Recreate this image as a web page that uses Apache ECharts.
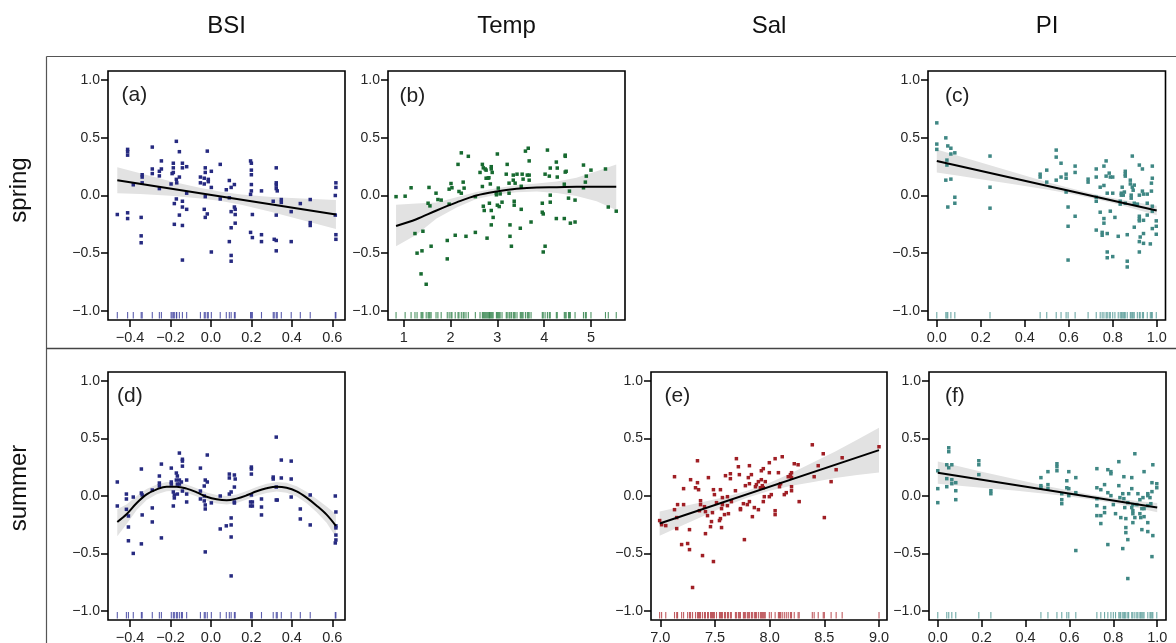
<!DOCTYPE html>
<html><head><meta charset="utf-8">
<script src="https://cdn.jsdelivr.net/npm/echarts@6/dist/echarts.min.js"></script>
<style>html,body{margin:0;padding:0;background:#fff}#c{width:1176px;height:643px}</style>
</head><body><div id="c"></div>
<script>
// ---------- labels / ticks ----------
const colHeaders = ['BSI', 'Temp', 'Sal', 'PI'];
const rowHeaders = ['spring', 'summer'];
const panelLabels = ['(a)', '(b)', '(c)', '(d)', '(e)', '(f)'];
const yTicks = [-1, -0.5, 0, 0.5, 1];
const bsiTicks = [-0.4, -0.2, 0, 0.2, 0.4, 0.6];
const tempTicks = [1, 2, 3, 4, 5];
const salTicks = [7, 7.5, 8, 8.5, 9];
const piTicks = [0, 0.2, 0.4, 0.6, 0.8, 1];

// ---------- (a) spring BSI ----------
const aPts = [[-0.463,-0.165],[-0.412,0.40],[-0.412,0.38],[-0.412,0.35],[-0.412,-0.15],[-0.412,-0.20],[-0.384,0.093],[-0.34,0.18],[-0.34,0.16],[-0.34,0.11],[-0.345,-0.19],[-0.345,-0.35],[-0.345,-0.41],[-0.29,0.42],[-0.29,0.23],[-0.29,0.19],[-0.255,0.06],[-0.255,0.21],[-0.255,0.17],[-0.245,0.30],[-0.245,0.23],[-0.197,0.10],[-0.192,0.19],[-0.186,0.28],[-0.186,0.24],[-0.186,0.20],[-0.181,-0.07],[-0.181,-0.25],[-0.171,0.47],[-0.171,0.14],[-0.169,0.11],[-0.171,-0.03],[-0.156,0.38],[-0.156,0.16],[-0.156,-0.17],[-0.141,0.28],[-0.141,0.24],[-0.141,-0.05],[-0.141,-0.10],[-0.141,-0.26],[-0.141,-0.56],[-0.12,0.25],[-0.12,0.02],[-0.12,-0.12],[-0.052,0.16],[-0.052,0.11],[-0.033,0.15],[-0.033,0.10],[-0.028,0.24],[-0.028,0.20],[-0.028,-0.01],[-0.033,-0.12],[-0.028,-0.19],[-0.018,0.385],[-0.013,0.14],[-0.013,0.12],[-0.018,-0.16],[0.002,0.21],[0.002,0.07],[0.002,-0.49],[0.046,0.27],[0.046,-0.03],[0.076,0.05],[0.091,0.13],[0.091,-0.02],[0.091,-0.40],[0.10,0.07],[0.10,-0.14],[0.10,-0.28],[0.10,-0.52],[0.10,-0.57],[0.116,0.095],[0.116,-0.10],[0.12,-0.12],[0.12,-0.165],[0.12,-0.24],[0.196,0.30],[0.2,0.28],[0.2,0.22],[0.2,0.18],[0.2,0.095],[0.2,0.04],[0.196,0.01],[0.205,-0.165],[0.196,-0.32],[0.205,-0.365],[0.25,0.04],[0.25,-0.34],[0.25,-0.40],[0.308,-0.05],[0.313,-0.38],[0.323,0.24],[0.323,0.11],[0.323,0.09],[0.323,0.06],[0.328,0.04],[0.323,-0.17],[0.323,-0.39],[0.323,-0.48],[0.348,-0.035],[0.348,-0.06],[0.397,-0.14],[0.397,-0.40],[0.442,-0.07],[0.491,-0.035],[0.491,-0.235],[0.491,-0.26],[0.618,0.11],[0.618,0.07],[0.615,0.0],[0.615,-0.17],[0.618,-0.34],[0.618,-0.38]];
const aFitX = [-0.463, 0.618];
const aFitY = [0.133, -0.165];
const aBandX = [-0.463, -0.35, -0.2, -0.05, 0.05, 0.15, 0.3, 0.45, 0.618];
const aBandHi = [0.246, 0.192, 0.124, 0.064, 0.032, 0.009, -0.013, -0.026, -0.040];
const aBandLo = [0.020, 0.012, -0.002, -0.026, -0.048, -0.081, -0.143, -0.212, -0.290];

// ---------- (b) spring Temp ----------
const bPts = [[0.836,-0.01],[1.03,-0.006],[1.157,0.067],[1.24,-0.33],[1.285,-0.50],[1.39,-0.48],[1.41,-0.31],[1.37,-0.68],[1.48,-0.77],[1.52,-0.067],[1.54,0.07],[1.56,-0.09],[1.585,-0.44],[1.69,0.02],[1.73,-0.035],[1.8,-0.04],[1.93,-0.39],[1.93,-0.55],[1.97,0.055],[1.97,-0.075],[2.01,0.104],[2.03,0.067],[2.1,-0.345],[2.16,0.27],[2.18,0.035],[2.23,0.37],[2.23,0.02],[2.27,0.116],[2.29,0.064],[2.33,-0.354],[2.38,0.34],[2.53,-0.32],[2.53,-0.01],[2.63,0.20],[2.68,0.078],[2.68,0.27],[2.7,0.24],[2.7,-0.093],[2.72,-0.13],[2.74,0.23],[2.76,0.22],[2.76,0.15],[2.78,-0.37],[2.8,0.15],[2.82,0.154],[2.83,-0.067],[2.85,0.10],[2.87,0.25],[2.87,0.23],[2.87,-0.13],[2.87,-0.255],[2.89,0.20],[2.91,-0.19],[2.98,0.02],[2.98,0.006],[3.0,0.36],[3.0,-0.084],[3.02,0.064],[3.04,-0.096],[3.06,0.014],[3.1,-0.058],[3.19,0.185],[3.21,0.27],[3.25,0.107],[3.25,0.02],[3.27,-0.255],[3.27,-0.354],[3.3,-0.44],[3.34,0.177],[3.34,0.133],[3.36,-0.084],[3.36,-0.05],[3.38,0.107],[3.42,0.185],[3.49,-0.284],[3.51,-0.12],[3.51,0.08],[3.53,0.185],[3.55,0.142],[3.6,0.385],[3.64,0.177],[3.66,0.41],[3.68,0.30],[3.68,0.177],[3.68,0.133],[3.72,-0.23],[3.96,-0.067],[3.96,-0.145],[3.98,-0.16],[3.98,-0.49],[4.02,-0.44],[4.02,0.185],[4.07,0.394],[4.11,0.168],[4.13,0.238],[4.13,0.003],[4.13,-0.058],[4.26,0.29],[4.26,-0.2],[4.28,0.238],[4.28,0.16],[4.43,0.098],[4.43,-0.2],[4.45,0.35],[4.45,0.34],[4.45,0.203],[4.47,0.21],[4.52,-0.023],[4.54,0.038],[4.56,-0.24],[4.66,-0.23],[4.66,-0.04],[4.84,0.264],[4.84,0.067],[4.88,0.116],[4.9,0.168],[5.0,0.22],[5.31,0.23],[5.37,-0.1],[5.54,-0.136]];
const bFitX = [0.836, 1.27, 1.7, 2.13, 2.55, 2.98, 3.41, 3.84, 4.27, 4.69, 5.12, 5.54];
const bFitY = [-0.264, -0.206, -0.13, -0.06, 0.0, 0.035, 0.058, 0.07, 0.072, 0.075, 0.075, 0.075];
const bBandX = [0.836, 1.27, 1.7, 2.13, 2.55, 2.98, 3.41, 3.84, 4.27, 4.69, 5.12, 5.54];
const bBandHi = [-0.08, -0.07, -0.06, -0.015, 0.03, 0.063, 0.088, 0.105, 0.122, 0.155, 0.21, 0.27];
const bBandLo = [-0.44, -0.34, -0.20, -0.105, -0.03, 0.007, 0.028, 0.035, 0.022, -0.005, -0.05, -0.125];

// ---------- (c) spring PI ----------
const cPts = [[0,0.63],[0,0.446],[0,0.40],[0.041,0.50],[0.05,0.43],[0.064,0.41],[0.064,0.36],[0.082,0.37],[0.046,0.307],[0.046,0.264],[0.041,0.133],[0.064,0.142],[0.05,-0.10],[0.082,-0.015],[0.082,-0.067],[0.242,0.342],[0.242,0.072],[0.242,-0.11],[0.47,0.185],[0.47,0.16],[0.50,0.22],[0.50,0.116],[0.543,0.394],[0.543,0.333],[0.543,0.133],[0.565,0.28],[0.565,0.16],[0.588,0.185],[0.588,0.15],[0.588,0.03],[0.597,-0.10],[0.597,-0.267],[0.597,-0.56],[0.629,0.255],[0.629,0.20],[0.629,-0.18],[0.688,0.142],[0.688,0.116],[0.725,0.23],[0.725,0.16],[0.725,-0.015],[0.725,-0.05],[0.725,-0.30],[0.743,0.072],[0.743,-0.145],[0.752,-0.32],[0.752,-0.345],[0.76,0.255],[0.76,0.087],[0.76,-0.2],[0.76,-0.24],[0.77,0.30],[0.77,0.168],[0.775,0.02],[0.775,-0.33],[0.775,-0.49],[0.775,-0.54],[0.784,0.194],[0.789,0.16],[0.8,0.16],[0.789,-0.136],[0.8,0.02],[0.8,-0.53],[0.81,-0.19],[0.825,-0.354],[0.834,-0.05],[0.834,-0.075],[0.839,0.02],[0.839,0.003],[0.843,0.072],[0.848,0.003],[0.853,0.03],[0.857,0.21],[0.857,0.185],[0.857,0.168],[0.857,-0.067],[0.866,-0.34],[0.866,-0.57],[0.866,-0.62],[0.88,0.133],[0.88,0.10],[0.884,0.003],[0.884,-0.023],[0.889,0.342],[0.889,0.072],[0.893,0.046],[0.898,0.09],[0.898,-0.067],[0.898,-0.275],[0.912,-0.075],[0.921,0.264],[0.921,0.003],[0.921,-0.18],[0.921,-0.205],[0.921,-0.22],[0.921,-0.4],[0.921,-0.49],[0.925,-0.36],[0.935,0.23],[0.935,0.038],[0.94,0.012],[0.94,-0.215],[0.94,-0.33],[0.94,-0.415],[0.957,0.012],[0.957,-0.067],[0.957,-0.17],[0.971,-0.42],[0.976,0.107],[0.976,0.038],[0.98,0.255],[0.98,0.15],[0.98,-0.093],[0.98,-0.136],[0.98,-0.287],[0.998,-0.22],[0.998,-0.267],[0.998,-0.336]];
const cFitX = [0, 1.0];
const cFitY = [0.30, -0.13];
const cBandX = [0, 0.1, 0.2, 0.35, 0.5, 0.6, 0.7, 0.8, 0.9, 1.0];
const cBandHi = [0.40, 0.343, 0.286, 0.202, 0.118, 0.067, 0.020, -0.022, -0.057, -0.088];
const cBandLo = [0.20, 0.171, 0.142, 0.098, 0.052, 0.017, -0.022, -0.066, -0.117, -0.172];

// ---------- (d) summer BSI ----------
const dPts = [[-0.463,0.122],[-0.463,-0.087],[-0.418,0.017],[-0.418,-0.026],[-0.418,-0.116],[-0.408,-0.174],[-0.408,-0.27],[-0.408,-0.39],[-0.384,-0.009],[-0.384,-0.50],[-0.344,0.235],[-0.344,0.026],[-0.34,0.009],[-0.34,-0.165],[-0.344,-0.417],[-0.29,0.052],[-0.29,-0.104],[-0.29,-0.226],[-0.255,0.174],[-0.255,0.113],[-0.255,0.087],[-0.245,0.278],[-0.245,-0.365],[-0.196,0.243],[-0.196,0.122],[-0.196,0.104],[-0.186,0.035],[-0.186,-0.087],[-0.181,0.009],[-0.181,-0.017],[-0.171,0.20],[-0.166,0.174],[-0.171,0.139],[-0.166,0.104],[-0.166,0.017],[-0.156,0.374],[-0.156,0.139],[-0.156,0.104],[-0.146,0.122],[-0.141,0.32],[-0.141,0.304],[-0.141,0.26],[-0.141,0.043],[-0.12,0.139],[-0.12,0.017],[-0.12,-0.052],[-0.052,0.243],[-0.052,0.043],[-0.052,-0.026],[-0.033,0.087],[-0.033,0.0],[-0.033,-0.043],[-0.028,-0.078],[-0.028,-0.113],[-0.028,0.139],[-0.028,-0.487],[-0.018,0.357],[-0.018,0.122],[0.002,-0.06],[0.046,0.0],[0.046,-0.287],[0.076,-0.26],[0.091,0.191],[0.091,0.157],[0.091,0.017],[0.10,0.035],[0.10,-0.191],[0.10,-0.252],[0.10,-0.357],[0.10,-0.696],[0.116,0.183],[0.12,0.148],[0.116,0.078],[0.116,-0.052],[0.116,-0.061],[0.2,0.252],[0.2,0.235],[0.2,0.191],[0.2,0.009],[0.196,-0.052],[0.205,-0.052],[0.196,-0.087],[0.205,-0.087],[0.25,-0.026],[0.25,-0.096],[0.25,-0.165],[0.308,0.165],[0.308,0.148],[0.323,0.513],[0.323,0.078],[0.323,-0.035],[0.328,-0.035],[0.348,0.313],[0.348,0.157],[0.397,0.304],[0.397,0.148],[0.397,-0.009],[0.442,-0.113],[0.442,-0.2],[0.491,0.009],[0.491,-0.252],[0.615,0.0],[0.618,-0.139],[0.618,-0.26],[0.618,-0.278],[0.618,-0.34],[0.618,-0.383],[0.615,-0.409]];
const dFitX = [-0.463,-0.416,-0.367,-0.318,-0.268,-0.219,-0.169,-0.12,-0.07,-0.021,0.028,0.078,0.127,0.177,0.226,0.275,0.325,0.374,0.424,0.473,0.523,0.572,0.618];
const dFitY = [-0.226,-0.157,-0.061,0.014,0.058,0.081,0.081,0.064,0.032,-0.006,-0.029,-0.038,-0.023,0.006,0.041,0.067,0.081,0.072,0.041,-0.014,-0.084,-0.162,-0.26];
const dBandX = dFitX.slice();
const dBandHi = [-0.115,-0.072,-0.001,0.062,0.100,0.121,0.117,0.100,0.068,0.030,0.008,-0.001,0.014,0.043,0.079,0.107,0.123,0.115,0.086,0.036,-0.026,-0.092,-0.16];
const dBandLo = [-0.35,-0.242,-0.121,-0.034,0.016,0.041,0.045,0.028,-0.004,-0.042,-0.066,-0.075,-0.060,-0.031,0.003,0.027,0.039,0.029,-0.004,-0.064,-0.142,-0.232,-0.36];

// ---------- (e) summer Sal ----------
const ePts = [[6.994,-0.214],[7.012,-0.25],[7.05,-0.258],[7.13,0.168],[7.13,-0.119],[7.15,-0.188],[7.15,-0.284],[7.158,-0.075],[7.195,-0.423],[7.213,0.064],[7.213,-0.075],[7.25,-0.414],[7.267,-0.293],[7.267,-0.467],[7.277,0.142],[7.295,-0.797],[7.322,0.072],[7.34,0.307],[7.34,0.116],[7.35,0.055],[7.358,-0.128],[7.368,-0.041],[7.368,-0.075],[7.386,-0.519],[7.404,-0.093],[7.413,-0.328],[7.413,-0.136],[7.432,-0.171],[7.44,0.16],[7.459,-0.267],[7.468,-0.223],[7.477,-0.145],[7.486,0.055],[7.486,-0.571],[7.495,0.012],[7.514,-0.058],[7.541,-0.214],[7.55,0.055],[7.55,-0.197],[7.56,-0.11],[7.56,-0.275],[7.568,-0.014],[7.568,-0.075],[7.587,-0.162],[7.596,0.177],[7.614,-0.006],[7.614,-0.084],[7.623,-0.154],[7.641,0.194],[7.641,0.151],[7.65,-0.049],[7.687,0.046],[7.696,0.325],[7.714,0.255],[7.723,0.186],[7.733,-0.11],[7.733,-0.119],[7.76,-0.067],[7.769,-0.38],[7.778,0.09],[7.796,-0.075],[7.805,0.16],[7.815,0.264],[7.815,0.107],[7.815,-0.049],[7.833,0.186],[7.842,-0.18],[7.86,-0.101],[7.87,0.081],[7.879,0.099],[7.897,0.125],[7.897,-0.119],[7.915,0.072],[7.924,0.22],[7.924,0.142],[7.933,0.09],[7.942,0.238],[7.942,0.072],[7.942,-0.049],[7.951,-0.006],[7.96,0.125],[7.997,0.29],[7.997,0.203],[7.997,-0.006],[8.015,0.012],[8.05,0.325],[8.05,-0.128],[8.05,-0.162],[8.08,0.203],[8.09,0.081],[8.1,0.107],[8.115,0.342],[8.134,0.012],[8.152,0.029],[8.17,0.168],[8.19,0.186],[8.2,0.081],[8.2,0.046],[8.2,0.203],[8.2,0.16],[8.225,0.281],[8.26,0.272],[8.27,-0.049],[8.39,0.446],[8.407,0.168],[8.444,0.264],[8.49,0.368],[8.5,-0.188],[8.562,0.125],[8.608,0.229],[8.663,0.333],[9.0,0.429]];
const eFitX = [6.994, 9.0];
const eFitY = [-0.24, 0.40];
const eBandX = [6.994, 7.2, 7.4, 7.6, 7.8, 8.0, 8.2, 8.4, 8.6, 8.8, 9.0];
const eBandHi = [-0.134, -0.091, -0.051, -0.007, 0.047, 0.116, 0.200, 0.293, 0.387, 0.489, 0.595];
const eBandLo = [-0.346, -0.257, -0.171, -0.087, -0.013, 0.046, 0.090, 0.123, 0.157, 0.183, 0.205];

// ---------- (f) summer PI ----------
const fPts = [[0,0.22],[0,0.064],[0,-0.058],[0.05,0.42],[0.05,0.386],[0.05,0.246],[0.041,0.272],[0.064,0.272],[0.041,0.151],[0.041,0.081],[0.064,0.142],[0.064,0.107],[0.082,0.116],[0.082,0.046],[0.082,-0.032],[0.187,0.307],[0.187,0.272],[0.187,0.186],[0.242,0.046],[0.242,0.02],[0.47,0.16],[0.47,0.09],[0.47,0.072],[0.502,0.212],[0.502,0.099],[0.502,0.064],[0.543,0.281],[0.543,0.255],[0.543,0.22],[0.565,0.02],[0.565,-0.032],[0.565,-0.067],[0.588,0.133],[0.588,0.072],[0.597,0.064],[0.597,0.003],[0.597,0.212],[0.629,0.16],[0.629,0.029],[0.629,-0.475],[0.725,0.238],[0.725,0.072],[0.725,-0.023],[0.725,-0.084],[0.725,-0.171],[0.743,0.055],[0.743,-0.171],[0.743,-0.24],[0.76,0.099],[0.76,-0.101],[0.76,-0.145],[0.775,0.229],[0.775,0.029],[0.775,-0.423],[0.789,0.212],[0.789,0.194],[0.789,0.003],[0.8,-0.075],[0.81,-0.154],[0.825,0.299],[0.825,0.09],[0.83,-0.014],[0.834,-0.188],[0.843,0.02],[0.843,-0.458],[0.848,0.168],[0.848,-0.023],[0.852,-0.101],[0.857,-0.197],[0.857,-0.275],[0.857,-0.319],[0.866,-0.38],[0.866,-0.719],[0.866,-0.058],[0.87,0.02],[0.884,0.16],[0.884,0.064],[0.884,-0.101],[0.889,-0.075],[0.889,-0.128],[0.889,-0.154],[0.889,-0.232],[0.898,0.368],[0.898,-0.188],[0.907,-0.075],[0.912,0.02],[0.921,-0.032],[0.921,-0.154],[0.925,-0.188],[0.93,-0.293],[0.93,-0.11],[0.935,-0.014],[0.94,0.212],[0.94,-0.11],[0.94,-0.18],[0.957,0.02],[0.957,0.003],[0.957,-0.084],[0.957,-0.232],[0.957,-0.31],[0.967,-0.014],[0.971,-0.067],[0.976,0.116],[0.976,0.038],[0.976,-0.528],[0.98,0.272],[0.98,-0.345],[0.998,0.107],[0.998,0.072]];
const fFitX = [0, 1.0];
const fFitY = [0.203, -0.101];
const fBandX = [0, 0.1, 0.2, 0.35, 0.5, 0.6, 0.7, 0.8, 0.9, 1.0];
const fBandHi = [0.300, 0.256, 0.212, 0.147, 0.084, 0.047, 0.011, -0.018, -0.042, -0.061];
const fBandLo = [0.106, 0.090, 0.072, 0.047, 0.018, -0.005, -0.031, -0.062, -0.100, -0.141];

// ---------- layout (positions and styles only) ----------
const FONT = '"Liberation Sans", Arial, Helvetica, sans-serif';
const Y_MIN = -1.08, Y_MAX = 1.08;
const panels = [
  {box:[108,71,237,249], xr:[-0.509,0.663], ticks:bsiTicks, dec:1, pts:aPts, fx:aFitX, fy:aFitY, bx:aBandX, bh:aBandHi, bl:aBandLo, smooth:false, color:'#262A80', rug:'#34379a', lab:[121.5,95]},
  {box:[388,71,237,249], xr:[0.664,5.727], ticks:tempTicks, dec:0, pts:bPts, fx:bFitX, fy:bFitY, bx:bBandX, bh:bBandHi, bl:bBandLo, smooth:0.35, color:'#176A30', rug:'#237a3e', lab:[399.5,96]},
  {box:[928,71,237.5,249], xr:[-0.04,1.04], ticks:piTicks, dec:1, pts:cPts, fx:cFitX, fy:cFitY, bx:cBandX, bh:cBandHi, bl:cBandLo, smooth:false, color:'#3F8784', rug:'#4a9390', lab:[945,96]},
  {box:[108,372,237,248], xr:[-0.509,0.663], ticks:bsiTicks, dec:1, pts:dPts, fx:dFitX, fy:dFitY, bx:dBandX, bh:dBandHi, bl:dBandLo, smooth:0.35, color:'#262A80', rug:'#34379a', lab:[117,396]},
  {box:[651,372,236,248], xr:[6.915,9.073], ticks:salTicks, dec:1, pts:ePts, fx:eFitX, fy:eFitY, bx:eBandX, bh:eBandHi, bl:eBandLo, smooth:false, color:'#A01F25', rug:'#b0333a', lab:[664.5,396]},
  {box:[929,372,237,248], xr:[-0.04,1.04], ticks:piTicks, dec:1, pts:fPts, fx:fFitX, fy:fFitY, bx:fBandX, bh:fBandHi, bl:fBandLo, smooth:false, color:'#3F8784', rug:'#4a9390', lab:[945,396]}
];
const colCenters = [226.5, 506.5, 769, 1047];
const rowCenters = [190, 488];

function fmt(dec) {
  return v => (dec === 0 ? String(Math.round(v)) : v.toFixed(1)).replace('-', '\u2212');
}

const grids = [], xAxes = [], yAxes = [], series = [];
panels.forEach((p, i) => {
  grids.push({left:p.box[0], top:p.box[1], width:p.box[2], height:p.box[3], show:true,
    borderColor:'#000', borderWidth:1.6, backgroundColor:'transparent', containLabel:false, outerBoundsMode:'none'});
  xAxes.push({gridIndex:i, type:'value', min:p.xr[0], max:p.xr[1], position:'bottom',
    axisLine:{show:false, onZero:false}, splitLine:{show:false},
    axisTick:{show:true, inside:false, length:7, lineStyle:{color:'#000', width:1.5}, customValues:p.ticks},
    axisLabel:{show:true, customValues:p.ticks, margin:10, fontSize:14.5, color:'#262626', fontFamily:FONT, formatter:fmt(p.dec)}});
  yAxes.push({gridIndex:i, type:'value', min:Y_MIN, max:Y_MAX, position:'left',
    axisLine:{show:false, onZero:false}, splitLine:{show:false},
    axisTick:{show:true, inside:false, length:7, lineStyle:{color:'#000', width:1.5}, customValues:yTicks},
    axisLabel:{show:true, customValues:yTicks, margin:8, fontSize:14, color:'#262626', fontFamily:FONT, formatter:fmt(1)}});
  // confidence band
  series.push({type:'custom', xAxisIndex:i, yAxisIndex:i, silent:true, z:1,
    data: p.bx.map((x, k) => [x, p.bl[k], p.bh[k]]),
    renderItem: (params, api) => {
      if (params.dataIndex !== 0) return null;
      const pts = [];
      for (let k = 0; k < p.bx.length; k++) pts.push(api.coord([p.bx[k], p.bh[k]]));
      for (let k = p.bx.length - 1; k >= 0; k--) pts.push(api.coord([p.bx[k], p.bl[k]]));
      return {type:'polygon', shape:{points:pts}, style:{fill:'#e2e2e2', stroke:null}};
    }});
  // points
  series.push({type:'scatter', xAxisIndex:i, yAxisIndex:i, z:3, symbol:'rect', symbolSize:3.5,
    itemStyle:{color:p.color, opacity:1}, data:p.pts, silent:true});
  // fit
  series.push({type:'line', xAxisIndex:i, yAxisIndex:i, z:4, symbol:'none', showSymbol:false, smooth:p.smooth,
    lineStyle:{color:'#000', width:2}, data:p.fx.map((x, k) => [x, p.fy[k]]), silent:true});
  // rug
  const rugX = Array.from(new Set(p.pts.map(d => d[0])));
  series.push({type:'custom', xAxisIndex:i, yAxisIndex:i, silent:true, z:5,
    data: rugX.map(x => [x, Y_MIN]),
    renderItem: (params, api) => {
      const c = api.coord([api.value(0), Y_MIN]);
      return {type:'line', shape:{x1:c[0], y1:c[1] - 1.5, x2:c[0], y2:c[1] - 8},
        style:{stroke:p.rug, lineWidth:1.1, opacity:0.8}};
    }});
});

const graphic = [
  {type:'line', shape:{x1:46.5, y1:56.5, x2:1176, y2:56.5}, style:{stroke:'#555', lineWidth:1.2}, silent:true},
  {type:'line', shape:{x1:46.5, y1:56.5, x2:46.5, y2:643}, style:{stroke:'#555', lineWidth:1.2}, silent:true},
  {type:'line', shape:{x1:46.5, y1:348.5, x2:1176, y2:348.5}, style:{stroke:'#444', lineWidth:1.4}, silent:true}
];
colHeaders.forEach((t, i) => graphic.push({type:'text', x:colCenters[i], y:26, silent:true,
  style:{text:t, fontSize:24, fontFamily:FONT, fill:'#111', align:'center', verticalAlign:'middle'}}));
rowHeaders.forEach((t, i) => graphic.push({type:'text', x:19.5, y:rowCenters[i], rotation:Math.PI/2, silent:true,
  style:{text:t, fontSize:24, fontFamily:FONT, fill:'#111', align:'center', verticalAlign:'middle'}}));
panels.forEach((p, i) => graphic.push({type:'text', x:p.lab[0], y:p.lab[1], silent:true,
  style:{text:panelLabels[i], fontSize:21, fontFamily:FONT, fill:'#222', align:'left', verticalAlign:'middle'}}));

const chart = echarts.init(document.getElementById('c'), null, {renderer:'canvas', devicePixelRatio:1});
chart.setOption({animation:false, backgroundColor:'#fff', grid:grids, xAxis:xAxes, yAxis:yAxes, series:series, graphic:graphic});
</script></body></html>
